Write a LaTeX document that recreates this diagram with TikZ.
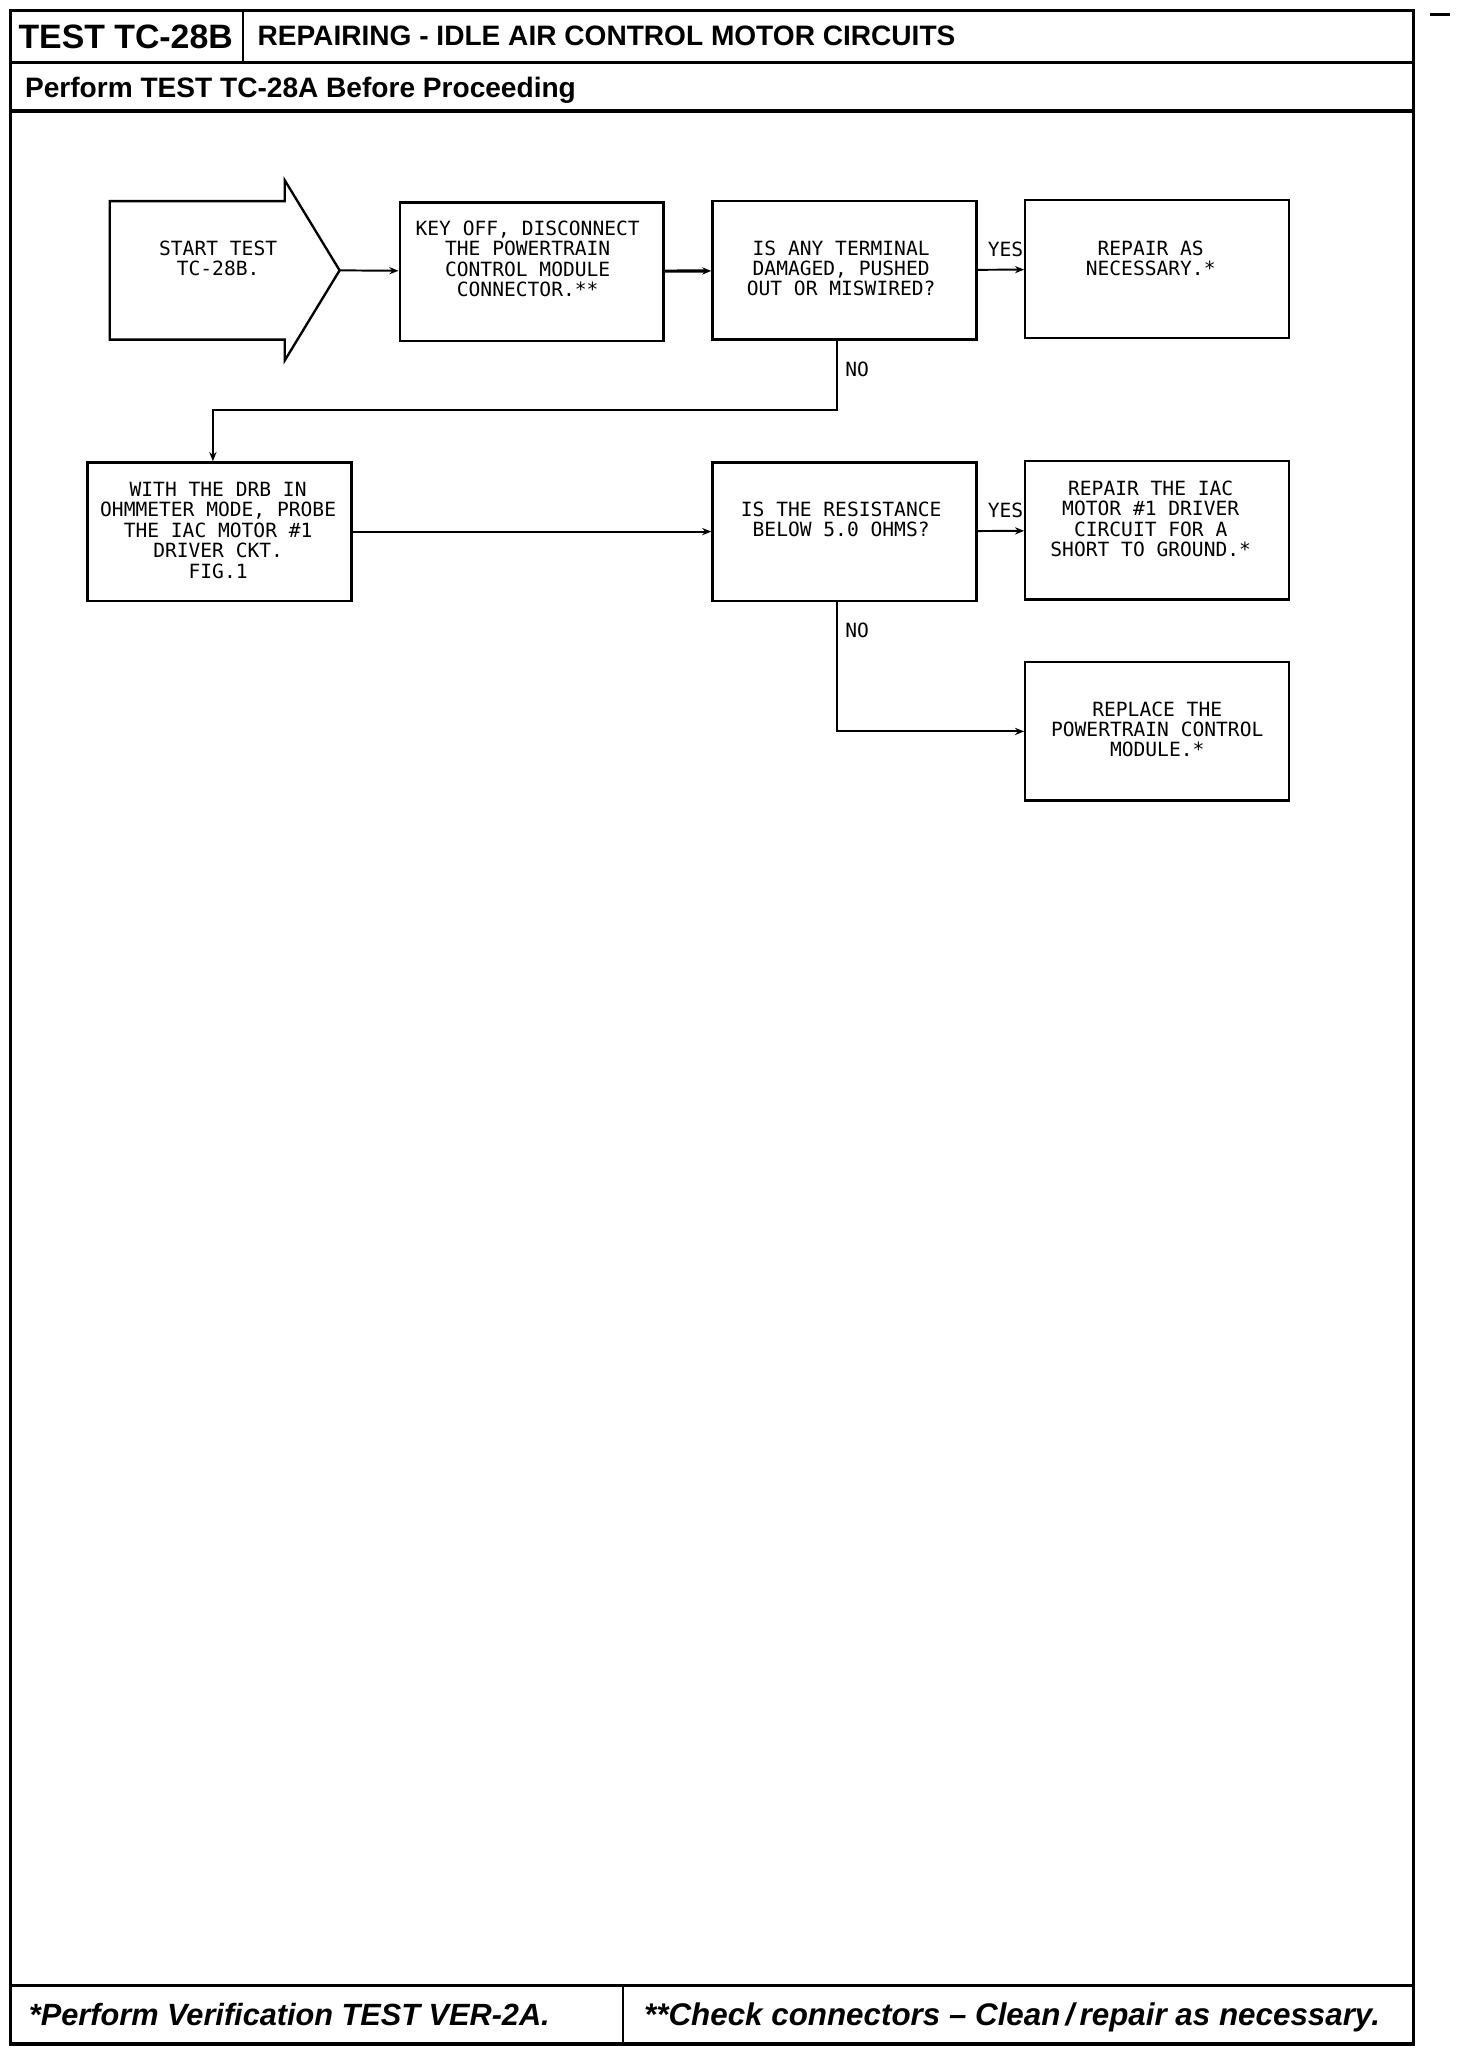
\documentclass[tikz,border=0pt]{standalone}
\usepackage{fontspec}
\setmainfont{Liberation Sans}
\newfontfamily\plotfont{DejaVu Sans Mono}
\usetikzlibrary{arrows.meta}

\tikzset{
  box/.style={draw, line width=1.8pt, minimum width=202pt, minimum height=106pt, inner sep=0pt},
  boxtext/.style={font=\plotfont\fontsize{15}{15.6}\selectfont, align=center, inner sep=0pt, anchor=north},
  answer/.style={font=\plotfont\fontsize{15}{15.6}\selectfont, inner sep=0pt},
  flow/.style={line width=1.5pt, -{Stealth[length=7pt,width=5.5pt]}},
  headtext/.style={font=\bfseries\fontsize{21.5}{24}\selectfont, inner sep=0pt, anchor=base west},
  foottext/.style={font=\bfseries\itshape\fontsize{23.5}{26}\selectfont, inner sep=0pt, anchor=base west},
}

\begin{document}
\begin{tikzpicture}[x=1pt, y=-1pt]
\useasboundingbox (0,0) rectangle (1127,1568);

% Frame
\draw[line width=2.5pt] (8,8) rectangle (1082,1565);
\draw[line width=2pt] (8,48) -- (1082,48);
\draw[line width=2.5pt] (8,85) -- (1082,85);
\draw[line width=2pt] (186,8) -- (186,48);
\draw[line width=2pt] (8,1520) -- (1082,1520);
\draw[line width=2pt] (477,1520) -- (477,1565);
\draw[line width=2pt] (1095,11) -- (1110,11);

% Header
\node[headtext, font=\bfseries\fontsize{25.9}{28}\selectfont] (testid) at (14,37) {TEST TC-28B};
\node[headtext] (title) at (197,35) {REPAIRING - IDLE AIR CONTROL MOTOR CIRCUITS};
\node[headtext] (pretest) at (19,75) {Perform TEST TC-28A Before Proceeding};

% Start arrow
\draw[line width=1.8pt] (84,154) -- (218,154) -- (218,138) -- (260,207)
  -- (218,276) -- (218,260) -- (84,260) -- cycle;
\coordinate (starttip) at (260,207);
\node[boxtext, anchor=center] (start) at (167,198) {START TEST\\TC-28B.};

% Boxes
\node[box] (keyoff) at (407,208) {};
\node[boxtext] (keyoff-t) at (404,169) {KEY OFF, DISCONNECT\\THE POWERTRAIN\\CONTROL MODULE\\CONNECTOR.**};
\node[box] (termchk) at (646.5,207) {};
\node[boxtext] (termchk-t) at (644,184) {IS ANY TERMINAL\\DAMAGED, PUSHED\\OUT OR MISWIRED?};
\node[box] (repaira) at (886,206) {};
\node[boxtext] (repaira-t) at (881,184) {REPAIR AS\\NECESSARY.*};
\node[box] (drbprobe) at (168,407) {};
\node[boxtext] (drbprobe-t) at (167,369) {WITH THE DRB IN\\OHMMETER MODE, PROBE\\THE IAC MOTOR \#1\\DRIVER CKT.\\FIG.1};
\node[box] (reschk) at (646.5,407) {};
\node[boxtext] (reschk-t) at (644,384) {IS THE RESISTANCE\\BELOW 5.0 OHMS?};
\node[box] (repairb) at (886,406) {};
\node[boxtext] (repairb-t) at (881,368) {REPAIR THE IAC\\MOTOR \#1 DRIVER\\CIRCUIT FOR A\\SHORT TO GROUND.*};
\node[box] (replpcm) at (886,560) {};
\node[boxtext] (replpcm-t) at (886,537) {REPLACE THE\\POWERTRAIN CONTROL\\MODULE.*};

% Connectors
\draw[flow] (starttip) -- (keyoff);
\draw[flow, line width=2.4pt] (keyoff) -- (termchk);
\draw[flow] (termchk) -- (repaira) node[answer, pos=0.6, above=9pt] (yesa) {YES};
\draw[flow] (termchk.south -| 641,0) -- (641,314) -| (drbprobe.north -| 163,0);
\node[answer, anchor=west] (noa) at (647,283) {NO};
\draw[flow] (drbprobe) -- (reschk);
\draw[flow] (reschk) -- (repairb) node[answer, pos=0.6, above=9pt] (yesb) {YES};
\draw[flow] (reschk.south -| 641,0) |- (replpcm.west);
\node[answer, anchor=west] (nob) at (647,483) {NO};

% Footer
\node[foottext] (verify) at (22,1551) {*Perform Verification TEST VER-2A.};
\node[foottext, font=\bfseries\itshape\fontsize{24}{26}\selectfont] (checkconn) at (493,1551) {**Check connectors -- Clean\,/\,repair as necessary.};
\end{tikzpicture}
\end{document}
